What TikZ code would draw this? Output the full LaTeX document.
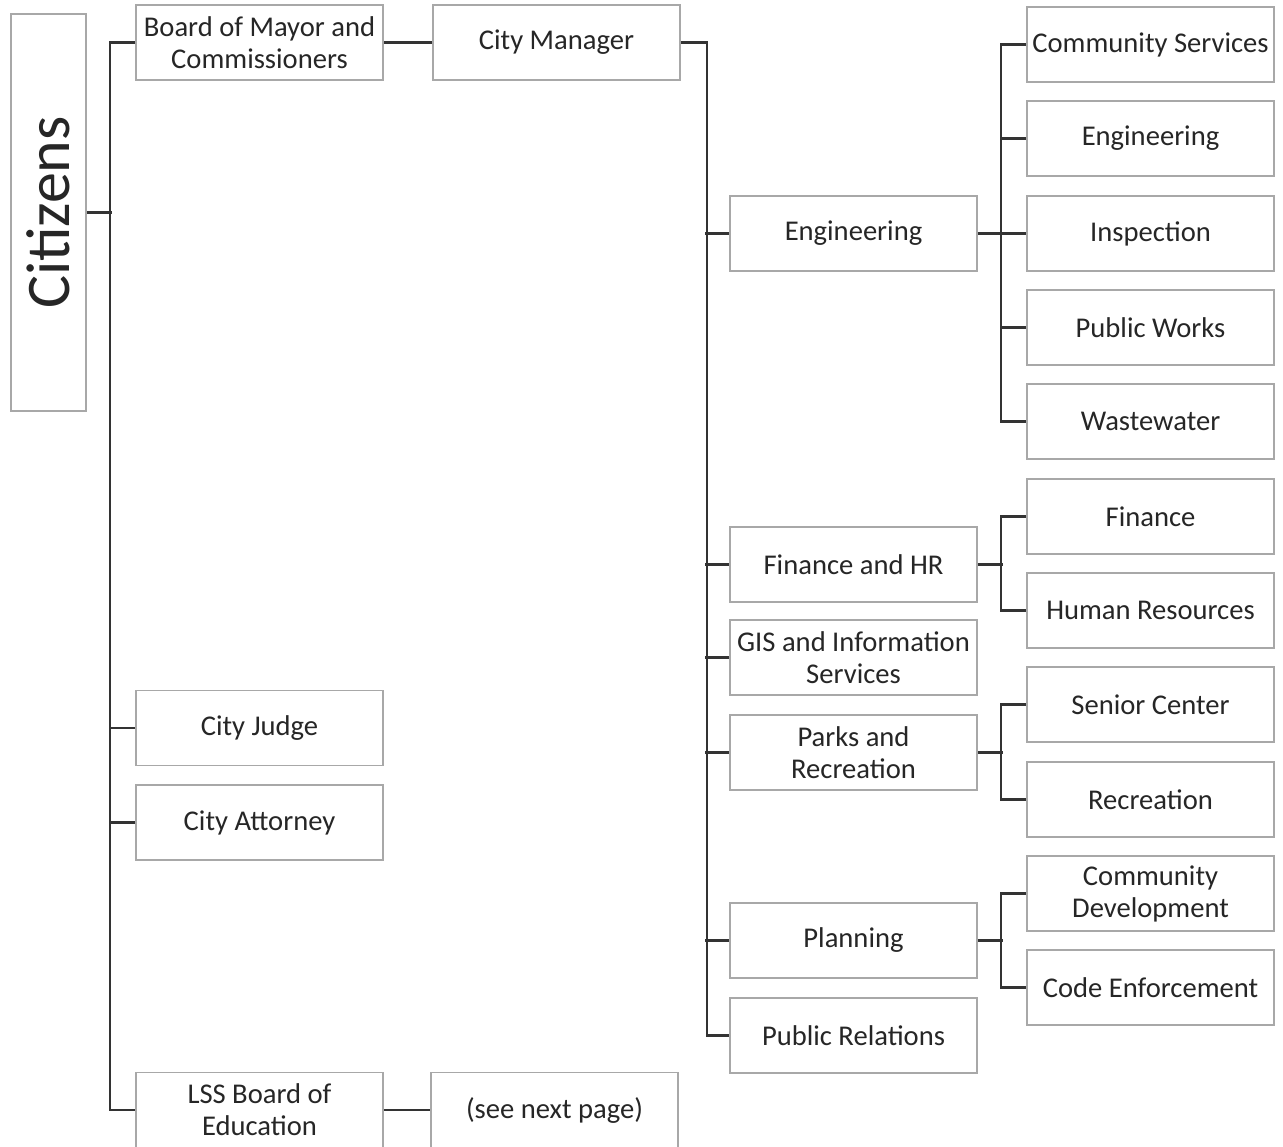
\documentclass[tikz,border=0pt]{standalone}
\usepackage{fontspec}
\setmainfont{Carlito}
\definecolor{boxline}{HTML}{A8A8A8}
\definecolor{conn}{HTML}{333333}
\definecolor{txt}{HTML}{262626}
\begin{document}
\begin{tikzpicture}[x=0.5pt,y=-0.5pt,
  box/.style={draw=boxline,line width=0.8pt,fill=white,minimum width=123.5pt,minimum height=37.5pt,
    align=center,inner sep=1pt,text=txt,font=\fontsize{14.3}{16}\selectfont},
  conline/.style={draw=conn,line width=1.1pt}]
\useasboundingbox (0,0) rectangle (1283,1146);
% left
\node[box,rotate=90,minimum width=198.5pt,font=\fontsize{31}{36}\selectfont] (cit) at (48.5,212.5) {Citizens};
\node[box] (board) at (259.5,42.5) {Board of Mayor and\\Commissioners};
\node[box] (mgr) at (556.5,42.5) {City Manager};
\node[box] (judge) at (259.5,728) {City Judge};
\node[box] (atty) at (259.5,822.5) {City Attorney};
\node[box] (lss) at (259.5,1110) {LSS Board of\\Education};
\node[box] (next) at (554.5,1110) {(see next page)};
% middle
\node[box] (eng) at (853.5,233.5) {Engineering};
\node[box] (fhr) at (853.5,564.5) {Finance and HR};
\node[box] (gis) at (853.5,657.5) {GIS and Information\\Services};
\node[box] (parks) at (853.5,752.5) {Parks and\\Recreation};
\node[box] (plan) at (853.5,940.5) {Planning};
\node[box] (pr) at (853.5,1035.5) {Public Relations};
% right
\node[box] (cs) at (1150.5,44.5) {Community Services};
\node[box] (eng2) at (1150.5,138.5) {Engineering};
\node[box] (ins) at (1150.5,233.5) {Inspection};
\node[box] (pw) at (1150.5,327.5) {Public Works};
\node[box] (ww) at (1150.5,421.5) {Wastewater};
\node[box] (fin) at (1150.5,516.5) {Finance};
\node[box] (hr) at (1150.5,610.5) {Human Resources};
\node[box] (sen) at (1150.5,704.5) {Senior Center};
\node[box] (rec) at (1150.5,799.5) {Recreation};
\node[box] (cd) at (1150.5,893.5) {Community\\Development};
\node[box] (code) at (1150.5,987.5) {Code Enforcement};
% connectors left
\draw[conline] (board.west) -- ++(-25,0) |- (lss.west);
\draw[conline] (cit.south) -- ++(25,0);
\draw[conline] (judge.west) -- ++(-25,0);
\draw[conline] (atty.west) -- ++(-25,0);
\draw[conline] (board.east) -- (mgr.west);
\draw[conline] (lss.east) -- (next.west);
% manager bus
\draw[conline] (mgr.east) -- ++(26,0) |- (pr.west);
\foreach \n in {eng,fhr,gis,parks,plan}{\draw[conline] (\n.west) -- ++(-24,0);}
% engineering
\draw[conline] (cs.west) -- ++(-25,0) |- (ww.west);
\draw[conline] (eng.east) -- (ins.west);
\draw[conline] (eng2.west) -- ++(-25,0);
\draw[conline] (pw.west) -- ++(-25,0);
% finance
\draw[conline] (fin.west) -- ++(-25,0) |- (hr.west);
\draw[conline] (fhr.east) -- ++(25,0);
% parks
\draw[conline] (sen.west) -- ++(-25,0) |- (rec.west);
\draw[conline] (parks.east) -- ++(25,0);
% planning
\draw[conline] (cd.west) -- ++(-25,0) |- (code.west);
\draw[conline] (plan.east) -- ++(25,0);
\end{tikzpicture}
\end{document}
